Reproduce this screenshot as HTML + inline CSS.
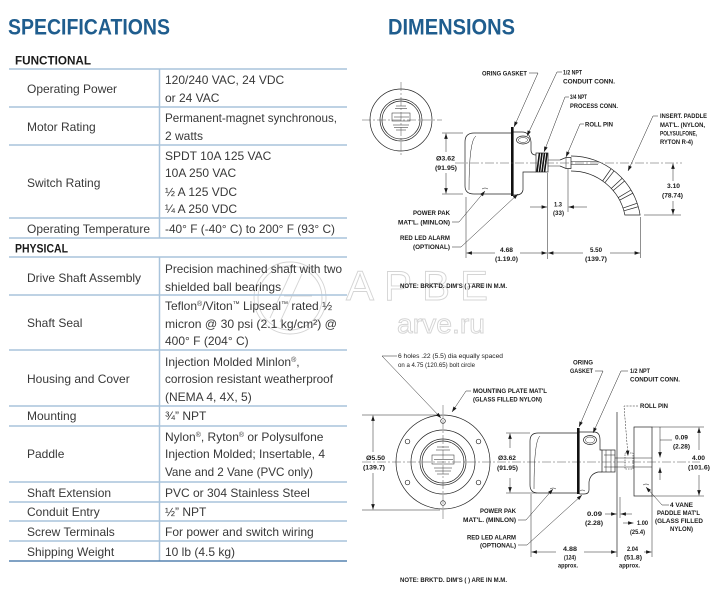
<!DOCTYPE html>
<html><head><meta charset="utf-8">
<style>
html,body{margin:0;padding:0;background:#fff;}
body{width:728px;height:600px;overflow:hidden;}
svg{display:block;}
.t{font-family:"Liberation Sans",sans-serif;font-size:12px;fill:#383838;}
.l{font-family:"Liberation Sans",sans-serif;font-size:6px;font-weight:bold;fill:#1a1a1a;}
.r{font-family:"Liberation Sans",sans-serif;font-size:6px;fill:#1a1a1a;}
.ln{stroke:#222;stroke-width:0.7;fill:none;}
.th{stroke:#222;stroke-width:0.5;fill:none;}
.cl{stroke:#555;stroke-width:0.5;fill:none;stroke-dasharray:9 2 2 2;}
</style></head>
<body>
<svg width="728" height="600" viewBox="0 0 728 600" xmlns="http://www.w3.org/2000/svg">
<defs>
<marker id="ar" viewBox="0 0 6 4" refX="6" refY="2" markerWidth="6" markerHeight="3.6" markerUnits="userSpaceOnUse" orient="auto"><path d="M0,0 L6,2 L0,4 z" fill="#1a1a1a"/></marker>
</defs>

<!-- watermark -->
<g fill="none" stroke="#d4d4d4" stroke-width="0.9">
<circle cx="290" cy="298" r="36"/>
<circle cx="290" cy="298" r="32"/>
<path d="M270 318 L292 270 M280 322 L302 274 M284 296 L312 296"/>
<text x="346" y="300" font-family="Liberation Sans, sans-serif" font-size="42" textLength="142" lengthAdjust="spacing">АРВЕ</text>
<text x="397" y="333" font-family="Liberation Sans, sans-serif" font-size="27" textLength="88" lengthAdjust="spacingAndGlyphs">arve.ru</text>
</g>

<!-- headers -->
<text x="8" y="34.3" font-family="Liberation Sans, sans-serif" font-size="22" font-weight="bold" fill="#1f5d8e" textLength="162" lengthAdjust="spacingAndGlyphs">SPECIFICATIONS</text>
<text x="388" y="34.3" font-family="Liberation Sans, sans-serif" font-size="22" font-weight="bold" fill="#1f5d8e" textLength="127" lengthAdjust="spacingAndGlyphs">DIMENSIONS</text>
<text x="15" y="64.3" font-family="Liberation Sans, sans-serif" font-size="11.5" font-weight="bold" fill="#1a1a1a" textLength="76" lengthAdjust="spacingAndGlyphs">FUNCTIONAL</text>
<text x="15" y="252.3" font-family="Liberation Sans, sans-serif" font-size="11.5" font-weight="bold" fill="#1a1a1a" textLength="53" lengthAdjust="spacingAndGlyphs">PHYSICAL</text>

<!-- table lines -->
<g stroke="#a9c4dc" stroke-width="1.5">
<line x1="9" y1="69" x2="347" y2="69"/>
<line x1="9" y1="107" x2="347" y2="107"/>
<line x1="9" y1="145" x2="347" y2="145"/>
<line x1="9" y1="218" x2="347" y2="218"/>
<line x1="9" y1="238" x2="347" y2="238"/>
<line x1="9" y1="257" x2="347" y2="257"/>
<line x1="9" y1="295" x2="347" y2="295"/>
<line x1="9" y1="350" x2="347" y2="350"/>
<line x1="9" y1="406" x2="347" y2="406"/>
<line x1="9" y1="426" x2="347" y2="426"/>
<line x1="9" y1="482" x2="347" y2="482"/>
<line x1="9" y1="502" x2="347" y2="502"/>
<line x1="9" y1="521" x2="347" y2="521"/>
<line x1="9" y1="541" x2="347" y2="541"/>
<line x1="159.5" y1="69" x2="159.5" y2="238"/>
<line x1="159.5" y1="257" x2="159.5" y2="561"/>
</g>
<line x1="9" y1="561" x2="347" y2="561" stroke="#5784b0" stroke-width="1.6"/>

<!-- table text -->
<g class="t">
<text x="27" y="93">Operating Power</text>
<text x="165" y="84">120/240 VAC, 24 VDC</text>
<text x="165" y="102">or 24 VAC</text>
<text x="27" y="131">Motor Rating</text>
<text x="165" y="122" textLength="172" lengthAdjust="spacingAndGlyphs">Permanent-magnet synchronous,</text>
<text x="165" y="140">2 watts</text>
<text x="27" y="187">Switch Rating</text>
<text x="165" y="160">SPDT 10A 125 VAC</text>
<text x="165" y="177">10A 250 VAC</text>
<text x="165" y="196">½ A 125 VDC</text>
<text x="165" y="213">¼ A 250 VDC</text>
<text x="27" y="233" textLength="123" lengthAdjust="spacingAndGlyphs">Operating Temperature</text>
<text x="165" y="233" textLength="170" lengthAdjust="spacingAndGlyphs">-40° F (-40° C) to 200° F (93° C)</text>

<text x="27" y="282">Drive Shaft Assembly</text>
<text x="165" y="273" textLength="177" lengthAdjust="spacingAndGlyphs">Precision machined shaft with two</text>
<text x="165" y="291">shielded ball bearings</text>
<text x="27" y="327">Shaft Seal</text>
<text x="165" y="310">Teflon<tspan font-size="7" dy="-4">®</tspan><tspan dy="4">/Viton</tspan><tspan font-size="7" dy="-4">™</tspan><tspan dy="4"> Lipseal</tspan><tspan font-size="7" dy="-4">™</tspan><tspan dy="4"> rated ½</tspan></text>
<text x="165" y="328" textLength="172" lengthAdjust="spacingAndGlyphs">micron @ 30 psi (2.1 kg/cm²) @</text>
<text x="165" y="345">400° F (204° C)</text>
<text x="27" y="383">Housing and Cover</text>
<text x="165" y="366">Injection Molded Minlon<tspan font-size="7" dy="-4">®</tspan><tspan dy="4">,</tspan></text>
<text x="165" y="383" textLength="168" lengthAdjust="spacingAndGlyphs">corrosion resistant weatherproof</text>
<text x="165" y="401">(NEMA 4, 4X, 5)</text>
<text x="27" y="420">Mounting</text>
<text x="165" y="420">¾” NPT</text>
<text x="27" y="458">Paddle</text>
<text x="165" y="441">Nylon<tspan font-size="7" dy="-4">®</tspan><tspan dy="4">, Ryton</tspan><tspan font-size="7" dy="-4">®</tspan><tspan dy="4"> or Polysulfone</tspan></text>
<text x="165" y="458" textLength="160" lengthAdjust="spacingAndGlyphs">Injection Molded; Insertable, 4</text>
<text x="165" y="476" textLength="148" lengthAdjust="spacingAndGlyphs">Vane and 2 Vane (PVC only)</text>
<text x="27" y="497">Shaft Extension</text>
<text x="165" y="497">PVC or 304 Stainless Steel</text>
<text x="27" y="516">Conduit Entry</text>
<text x="165" y="516">½” NPT</text>
<text x="27" y="536">Screw Terminals</text>
<text x="165" y="536">For power and switch wiring</text>
<text x="27" y="556">Shipping Weight</text>
<text x="165" y="556">10 lb (4.5 kg)</text>
</g>

<!-- ============ TOP DIAGRAM ============ -->
<g class="ln">
<circle cx="401" cy="120" r="31"/>
<circle cx="401" cy="120" r="21"/>
<circle cx="401" cy="120" r="19"/>
<rect x="392" y="113" width="18" height="8" class="th"/>
<line x1="394" y1="117" x2="409" y2="117" class="th"/>
</g>
<g class="th">
<line x1="396" y1="106" x2="406" y2="106"/><line x1="395" y1="108.5" x2="407" y2="108.5"/>
<line x1="393" y1="125" x2="409" y2="125"/><line x1="394" y1="127.5" x2="408" y2="127.5"/><line x1="396" y1="130" x2="406" y2="130"/>
</g>
<line x1="362" y1="120" x2="442" y2="120" class="cl"/>
<line x1="401" y1="82" x2="401" y2="156" class="cl"/>

<path class="ln" d="M512 133 L474 133 Q465 133 465 142 L465 186 Q465 194 474 194 L512 194"/>
<path class="th" d="M469 190 Q469 140 476 136"/>
<rect x="511" y="127" width="2.6" height="69" fill="#111"/>
<path class="ln" d="M513.5 132 L522 132 Q530 132 531 142 L531 150 Q531 155 536 155"/>
<path class="ln" d="M536 172 L523 172 L523 190 Q522 195 516 195 L513.5 195"/>
<ellipse cx="523" cy="140" rx="6.5" ry="4" class="ln"/>
<ellipse cx="523" cy="140" rx="4.5" ry="2.5" class="th"/>
<rect x="536" y="153" width="12" height="19" class="ln"/>
<g stroke="#111" stroke-width="1.6">
<line x1="537" y1="172" x2="539.5" y2="153"/><line x1="539.5" y1="172" x2="542" y2="153"/>
<line x1="542" y1="172" x2="544.5" y2="153"/><line x1="544.5" y1="172" x2="547" y2="153"/>
</g>
<line x1="548" y1="160" x2="560" y2="160" class="th"/>
<line x1="548" y1="166" x2="560" y2="166" class="th"/>
<path class="ln" d="M560 160 L566 157.5 L571 157.5 L571 168.5 L566 168.5 L560 166"/>
<line x1="566" y1="157.5" x2="566" y2="168.5" class="th"/>
<path class="ln" d="M571 156 A70 70 0 0 1 640.1 215 L624.9 215 A55 55 0 0 0 571 171"/>
<line x1="571" y1="161.5" x2="598" y2="161.5" class="th"/>
<line x1="571" y1="164.5" x2="598" y2="164.5" class="th"/>
<g class="ln">
<line x1="602.6" y1="181" x2="611.2" y2="168.7"/><line x1="604.9" y1="182.7" x2="614.1" y2="170.8"/>
<line x1="611.2" y1="188.5" x2="622.2" y2="178.3"/><line x1="613.1" y1="190.6" x2="624.6" y2="181"/>
<line x1="618.1" y1="197.7" x2="631" y2="190"/><line x1="619.6" y1="200.2" x2="632.8" y2="193.2"/>
<line x1="623" y1="208.1" x2="637.2" y2="203.2"/><line x1="623.9" y1="210.8" x2="638.3" y2="206.7"/>
</g>
<line x1="455" y1="163" x2="682" y2="163" class="cl"/>

<g class="th">
<line x1="442" y1="133" x2="463" y2="133"/>
<line x1="442" y1="194" x2="463" y2="194"/>
<line x1="466" y1="197" x2="466" y2="258"/>
<line x1="547.5" y1="173" x2="547.5" y2="259"/>
<line x1="568" y1="169" x2="568" y2="212"/>
<line x1="640.5" y1="217" x2="640.5" y2="258"/>
<line x1="644" y1="215" x2="681" y2="215"/>
</g>
<g class="th" marker-end="url(#ar)">
<line x1="446" y1="152" x2="446" y2="133.5"/>
<line x1="446" y1="173" x2="446" y2="193.5"/>
<line x1="495" y1="253" x2="466.5" y2="253"/>
<line x1="520" y1="253" x2="547" y2="253"/>
<line x1="583" y1="253" x2="548" y2="253"/>
<line x1="610" y1="253" x2="640" y2="253"/>
<line x1="530" y1="207" x2="547" y2="207"/>
<line x1="587" y1="207" x2="568.5" y2="207"/>
<line x1="673" y1="181" x2="673" y2="163.5"/>
<line x1="673" y1="201" x2="673" y2="214.5"/>
</g>
<g class="th" marker-end="url(#ar)">
<polyline points="529,73 538,73 514,127"/>
<polyline points="562,72 557,72 527,136"/>
<polyline points="569,97 565,97 544,152"/>
<polyline points="584,124 580,124 566,157"/>
<polyline points="658,116 653,116 628,171"/>
<polyline points="452,222 459,222 485,191"/>
<polyline points="452,247 461,247 518,194"/>
</g>
<path class="th" d="M482 189 q3 -2 6 0"/>
<g class="l">
<text x="482" y="75.5" textLength="45" lengthAdjust="spacingAndGlyphs">ORING GASKET</text>
<text x="563" y="74.5" textLength="19" lengthAdjust="spacingAndGlyphs">1/2 NPT</text>
<text x="563" y="83.3" textLength="52" lengthAdjust="spacingAndGlyphs">CONDUIT CONN.</text>
<text x="570" y="99" textLength="17" lengthAdjust="spacingAndGlyphs">3/4 NPT</text>
<text x="570" y="108" textLength="48" lengthAdjust="spacingAndGlyphs">PROCESS CONN.</text>
<text x="585" y="126.5" textLength="28" lengthAdjust="spacingAndGlyphs">ROLL PIN</text>
<text x="660" y="118.2" textLength="47" lengthAdjust="spacingAndGlyphs">INSERT. PADDLE</text>
<text x="660" y="127.2" textLength="45" lengthAdjust="spacingAndGlyphs">MAT'L. (NYLON,</text>
<text x="660" y="135.5" textLength="37" lengthAdjust="spacingAndGlyphs">POLYSULFONE,</text>
<text x="660" y="144" textLength="33" lengthAdjust="spacingAndGlyphs">RYTON R-4)</text>
<text x="436" y="160.5" textLength="19" lengthAdjust="spacingAndGlyphs">Ø3.62</text>
<text x="435" y="170.2" textLength="22" lengthAdjust="spacingAndGlyphs">(91.95)</text>
<text x="413" y="215.2" textLength="37" lengthAdjust="spacingAndGlyphs">POWER PAK</text>
<text x="398" y="224.5" textLength="52" lengthAdjust="spacingAndGlyphs">MAT'L. (MINLON)</text>
<text x="400" y="240.2" textLength="50" lengthAdjust="spacingAndGlyphs">RED LED ALARM</text>
<text x="413" y="249.2" textLength="37" lengthAdjust="spacingAndGlyphs">(OPTIONAL)</text>
<text x="500" y="252.2" textLength="13" lengthAdjust="spacingAndGlyphs">4.68</text>
<text x="495" y="261.2" textLength="23" lengthAdjust="spacingAndGlyphs">(1.19.0)</text>
<text x="590" y="252.2" textLength="12" lengthAdjust="spacingAndGlyphs">5.50</text>
<text x="585" y="261.2" textLength="22" lengthAdjust="spacingAndGlyphs">(139.7)</text>
<text x="554" y="206.5" textLength="8" lengthAdjust="spacingAndGlyphs">1.3</text>
<text x="553" y="215.2" textLength="11" lengthAdjust="spacingAndGlyphs">(33)</text>
<text x="667" y="188.2" textLength="13" lengthAdjust="spacingAndGlyphs">3.10</text>
<text x="662" y="197.5" textLength="21" lengthAdjust="spacingAndGlyphs">(78.74)</text>
<text x="400" y="288.2" textLength="107" lengthAdjust="spacingAndGlyphs">NOTE: BRKT'D. DIM'S ( ) ARE IN M.M.</text>
</g>

<!-- ============ BOTTOM DIAGRAM ============ -->
<g class="ln">
<circle cx="443" cy="462" r="47"/>
<circle cx="443" cy="462" r="32"/>
<circle cx="443" cy="462" r="23"/>
<circle cx="443" cy="462" r="21"/>
<circle cx="443" cy="421" r="2.3"/>
<circle cx="443" cy="503" r="2.3"/>
<circle cx="407.5" cy="441.5" r="2.3"/>
<circle cx="478.5" cy="441.5" r="2.3"/>
<circle cx="407.5" cy="482.5" r="2.3"/>
<circle cx="478.5" cy="482.5" r="2.3"/>
<rect x="432" y="455" width="22" height="9" class="th"/>
<line x1="434" y1="459.5" x2="453" y2="459.5" class="th"/>
</g>
<g class="th">
<line x1="437" y1="447" x2="449" y2="447"/><line x1="436" y1="450" x2="450" y2="450"/>
<line x1="434" y1="468" x2="452" y2="468"/><line x1="435" y1="471" x2="451" y2="471"/><line x1="437" y1="474" x2="449" y2="474"/>
</g>
<line x1="362" y1="462" x2="700" y2="462" class="cl"/>
<line x1="443" y1="405" x2="443" y2="520" class="cl"/>

<path class="ln" d="M577 433 L538 433 Q530 433 530 441 L530 485 Q530 493 538 493 L577 493"/>
<path class="th" d="M534 489 Q534 440 540 436"/>
<rect x="577" y="428" width="2.6" height="66" fill="#111"/>
<path class="ln" d="M579.5 432 L594 432 Q600 432 600 440 L600 450 L602 450"/>
<path class="ln" d="M602 472 L598 472 Q590 474 589 482 L589 490 Q589 494 584 494 L579.5 494"/>
<ellipse cx="590" cy="440" rx="6.5" ry="4.5" class="ln"/>
<ellipse cx="590" cy="440" rx="4.5" ry="3" class="th"/>
<rect x="602" y="450" width="13" height="22" class="ln"/>
<line x1="606" y1="450" x2="606" y2="472" class="th"/>
<line x1="611" y1="450" x2="611" y2="472" class="th"/>
<line x1="604" y1="455" x2="615" y2="455" class="th"/>
<line x1="604" y1="467" x2="615" y2="467" class="th"/>
<line x1="617" y1="412" x2="617" y2="557" class="ln"/>
<line x1="615" y1="458" x2="652" y2="458" class="th"/>
<line x1="615" y1="467" x2="652" y2="467" class="th"/>
<rect x="625" y="453" width="8" height="16" class="th" stroke-dasharray="1.5 1"/>
<rect x="634" y="427" width="18" height="69" class="ln"/>
<path class="th" d="M550 489 q3 -2 6 0 M580 491 q2 -2 5 0 M643 485 q3 -2 6 0"/>

<g class="th">
<line x1="362" y1="415" x2="440" y2="415"/>
<line x1="362" y1="510" x2="440" y2="510"/>
<line x1="506" y1="433" x2="530" y2="433"/>
<line x1="506" y1="493" x2="537" y2="493"/>
<line x1="652" y1="427" x2="704" y2="427"/>
<line x1="652" y1="496" x2="704" y2="496"/>
<line x1="531" y1="494" x2="531" y2="557"/>
<line x1="652" y1="496" x2="652" y2="557"/>
<line x1="620" y1="497" x2="620" y2="518"/>
<line x1="660" y1="440" x2="672" y2="440"/>
<line x1="660" y1="427" x2="660" y2="446"/>
</g>
<g class="th" marker-end="url(#ar)">
<line x1="373" y1="452" x2="373" y2="415.5"/>
<line x1="373" y1="473" x2="373" y2="509.5"/>
<line x1="510" y1="448" x2="510" y2="433.5"/>
<line x1="510" y1="478" x2="510" y2="492.5"/>
<line x1="699" y1="450" x2="699" y2="427.5"/>
<line x1="699" y1="475" x2="699" y2="495.5"/>
<line x1="660" y1="446" x2="660" y2="457.5"/>
<line x1="660" y1="480" x2="660" y2="467.5"/>
<line x1="605" y1="514" x2="616.5" y2="514"/>
<line x1="632" y1="514" x2="620.5" y2="514"/>
<line x1="623" y1="523" x2="633.5" y2="523"/>
<line x1="556" y1="552" x2="531.5" y2="552"/>
<line x1="584" y1="552" x2="616.5" y2="552"/>
<line x1="644" y1="552" x2="651.5" y2="552"/>
</g>
<g class="th" marker-end="url(#ar)">
<polyline points="397,356 382,356 441,418"/>
<polyline points="471,391 466,391 452,412"/>
<polyline points="595,371 603,371 579,427"/>
<polyline points="628,371 621,371 593,433"/>
<polyline points="518,520 526,520 553,489"/>
<polyline points="518,545 527,545 582,495"/>
<polyline points="669,505 662,505 646,487"/>
</g>
<polyline points="638,406 624,406 628,456" class="th" stroke-dasharray="2 1.2" marker-end="url(#ar)"/>

<g class="r">
<text x="398" y="358.2" textLength="105" lengthAdjust="spacingAndGlyphs">6 holes .22 (5.5) dia equally spaced</text>
<text x="398" y="367.2" textLength="77" lengthAdjust="spacingAndGlyphs">on a 4.75 (120.65) bolt circle</text>
</g>
<g class="l">
<text x="473" y="393.2" textLength="74" lengthAdjust="spacingAndGlyphs">MOUNTING PLATE MAT'L</text>
<text x="473" y="401.5" textLength="69" lengthAdjust="spacingAndGlyphs">(GLASS FILLED NYLON)</text>
<text x="573" y="364.5" textLength="20" lengthAdjust="spacingAndGlyphs">ORING</text>
<text x="570" y="373.2" textLength="23" lengthAdjust="spacingAndGlyphs">GASKET</text>
<text x="630" y="373.2" textLength="20" lengthAdjust="spacingAndGlyphs">1/2 NPT</text>
<text x="630" y="381.5" textLength="50" lengthAdjust="spacingAndGlyphs">CONDUIT CONN.</text>
<text x="640" y="408.2" textLength="28" lengthAdjust="spacingAndGlyphs">ROLL PIN</text>
<text x="366" y="460.2" textLength="19" lengthAdjust="spacingAndGlyphs">Ø5.50</text>
<text x="363" y="469.5" textLength="22" lengthAdjust="spacingAndGlyphs">(139.7)</text>
<text x="498" y="460" textLength="18" lengthAdjust="spacingAndGlyphs">Ø3.62</text>
<text x="497" y="470" textLength="21" lengthAdjust="spacingAndGlyphs">(91.95)</text>
<text x="675" y="439.5" textLength="13" lengthAdjust="spacingAndGlyphs">0.09</text>
<text x="673" y="448.5" textLength="17" lengthAdjust="spacingAndGlyphs">(2.28)</text>
<text x="692" y="460.2" textLength="13" lengthAdjust="spacingAndGlyphs">4.00</text>
<text x="688" y="469.5" textLength="22" lengthAdjust="spacingAndGlyphs">(101.6)</text>
<text x="480" y="513.2" textLength="36" lengthAdjust="spacingAndGlyphs">POWER PAK</text>
<text x="463" y="522.2" textLength="53" lengthAdjust="spacingAndGlyphs">MAT'L. (MINLON)</text>
<text x="467" y="539.5" textLength="49" lengthAdjust="spacingAndGlyphs">RED LED ALARM</text>
<text x="480" y="547.5" textLength="36" lengthAdjust="spacingAndGlyphs">(OPTIONAL)</text>
<text x="587" y="516.2" textLength="15" lengthAdjust="spacingAndGlyphs">0.09</text>
<text x="585" y="525.2" textLength="18" lengthAdjust="spacingAndGlyphs">(2.28)</text>
<text x="637" y="525.2" textLength="11" lengthAdjust="spacingAndGlyphs">1.00</text>
<text x="630" y="534.2" textLength="15" lengthAdjust="spacingAndGlyphs">(25.4)</text>
<text x="670" y="507.2" textLength="23" lengthAdjust="spacingAndGlyphs">4 VANE</text>
<text x="657" y="515.2" textLength="43" lengthAdjust="spacingAndGlyphs">PADDLE MAT'L</text>
<text x="655" y="523.2" textLength="48" lengthAdjust="spacingAndGlyphs">(GLASS FILLED</text>
<text x="670" y="531" textLength="23" lengthAdjust="spacingAndGlyphs">NYLON)</text>
<text x="563" y="551.2" textLength="14" lengthAdjust="spacingAndGlyphs">4.88</text>
<text x="564" y="559.5" textLength="12" lengthAdjust="spacingAndGlyphs">(124)</text>
<text x="558" y="567.5" textLength="20" lengthAdjust="spacingAndGlyphs">approx.</text>
<text x="627" y="551.2" textLength="11" lengthAdjust="spacingAndGlyphs">2.04</text>
<text x="624" y="559.5" textLength="18" lengthAdjust="spacingAndGlyphs">(51.8)</text>
<text x="619" y="567.5" textLength="21" lengthAdjust="spacingAndGlyphs">approx.</text>
<text x="400" y="582.2" textLength="107" lengthAdjust="spacingAndGlyphs">NOTE: BRKT'D. DIM'S ( ) ARE IN M.M.</text>
</g>
</svg>
</body></html>
